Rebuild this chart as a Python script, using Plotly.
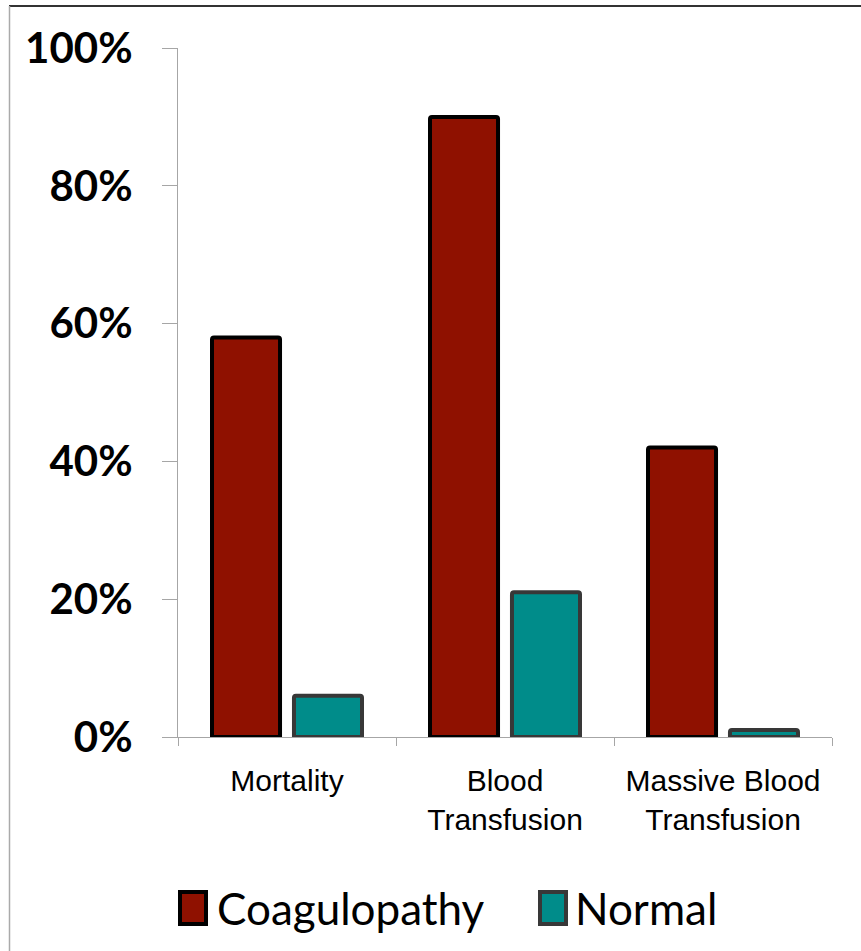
import plotly.graph_objects as go

categories = ["Mortality", "Blood<br>Transfusion", "Massive Blood<br>Transfusion"]
coagulopathy = [0.58, 0.90, 0.42]
normal = [0.06, 0.21, 0.01]
series_names = ["Coagulopathy", "Normal"]
y_ticks = [0, 0.2, 0.4, 0.6, 0.8, 1.0]
y_tick_labels = ["0%", "20%", "40%", "60%", "80%", "100%"]

W, H = 861, 951
L, R, T, B = 178, 29, 48, 214
pw, ph = W - L - R, H - T - B


def px(x):
    return (x - L) / pw


def py(y):
    return (H - B - y) / ph


coag_fill, coag_line = "#8F1100", "#000000"
norm_fill, norm_line = "#008C8A", "#383838"

fig = go.Figure()
fig.add_trace(go.Bar(x=categories, y=coagulopathy, name=series_names[0],
                     marker=dict(color=coag_fill, line=dict(color=coag_line, width=4), cornerradius=2)))
fig.add_trace(go.Bar(x=categories, y=normal, name=series_names[1],
                     marker=dict(color=norm_fill, line=dict(color=norm_line, width=4), cornerradius=2)))

shapes = [
    # frame
    dict(type="line", xref="paper", yref="paper", x0=px(9), x1=px(861), y0=py(6), y1=py(6),
         line=dict(color="#333333", width=2)),
    dict(type="line", xref="paper", yref="paper", x0=px(9.5), x1=px(9.5), y0=py(6), y1=py(951),
         line=dict(color="#AAAAAA", width=1.5)),
    # legend swatches
    dict(type="rect", xref="paper", yref="paper", x0=px(180), x1=px(206), y0=py(924), y1=py(892),
         fillcolor=coag_fill, line=dict(color=coag_line, width=4)),
    dict(type="rect", xref="paper", yref="paper", x0=px(540), x1=px(566), y0=py(924), y1=py(892),
         fillcolor=norm_fill, line=dict(color=norm_line, width=4)),
]
annotations = [
    dict(text=series_names[0], xref="paper", yref="paper", x=px(215), y=py(908), xanchor="left",
         yanchor="middle", showarrow=False, font=dict(family="Lato", size=44, color="#000")),
    dict(text=series_names[1], xref="paper", yref="paper", x=px(573), y=py(908), xanchor="left",
         yanchor="middle", showarrow=False, font=dict(family="Lato", size=44, color="#000")),
]

fig.update_layout(
    width=W, height=H, margin=dict(l=L, r=R, t=T, b=B, pad=0),
    paper_bgcolor="white", plot_bgcolor="white",
    barmode="group", bargap=0.248, bargroupgap=0.17,
    showlegend=False, shapes=shapes, annotations=annotations,
    xaxis=dict(range=[-0.5, 2.5], showline=True, linecolor="#A6A6A6", linewidth=1,
               ticks="outside", tickson="boundaries", ticklen=8, tickcolor="#A6A6A6",
               ticklabelstandoff=17,
               tickfont=dict(family="Liberation Sans", size=30, color="#000"), showgrid=False),
    yaxis=dict(range=[0, 1], tickvals=y_ticks, ticktext=y_tick_labels, showline=True,
               linecolor="#A6A6A6", linewidth=1, ticks="outside", ticklen=15, tickcolor="#A6A6A6",
               ticklabelstandoff=21,
               tickfont=dict(family="Lato", size=42, color="#000", weight="bold"),
               showgrid=False, zeroline=False),
)

fig.write_html("out.html")
